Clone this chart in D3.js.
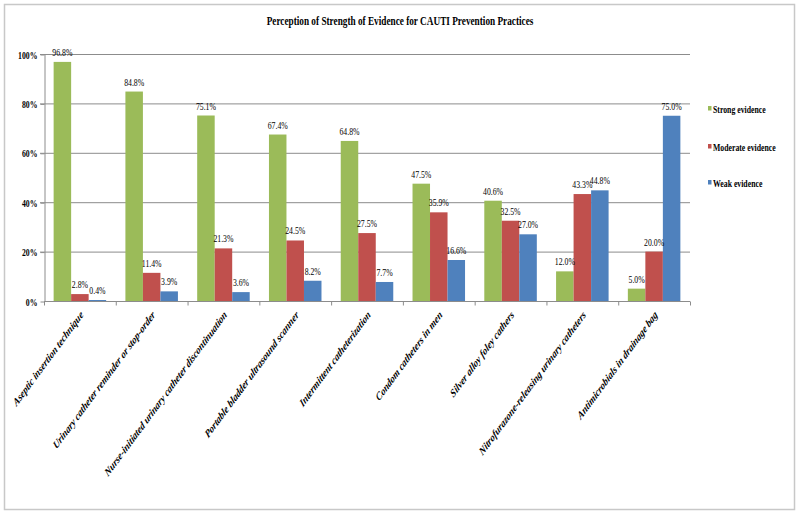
<!DOCTYPE html>
<meta charset="utf-8">
<style>
    body { margin: 0; background: #fff; }
    text { font-family: "Liberation Serif", "Times New Roman", serif; fill: #000; }
    .grid line { stroke: #8c8c8c; stroke-width: 1; }
    .axis path, .axis line { stroke: #8c8c8c; }
</style>
<svg width="800" height="516"></svg>

<script src="https://d3js.org/d3.v7.min.js"></script>
<script>
    var categories = ["Aseptic insertion technique", "Urinary catheter reminder or stop-order",
        "Nurse-initiated urinary catheter discontinuation", "Portable bladder ultrasound scanner",
        "Intermittent catheterization", "Condom catheters in men", "Silver alloy foley cathers",
        "Nitrofurazone-releasing urinary catheters", "Antimicrobials in drainage bag"];
    var seriesNames = ["Strong evidence", "Moderate evidence", "Weak evidence"];
    var strong = [96.8, 84.8, 75.1, 67.4, 64.8, 47.5, 40.6, 12.0, 5.0];
    var moderate = [2.8, 11.4, 21.3, 24.5, 27.5, 35.9, 32.5, 43.3, 20.0];
    var weak = [0.4, 3.9, 3.6, 8.2, 7.7, 16.6, 27.0, 44.8, 75.0];
    var yTicks = [0, 20, 40, 60, 80, 100];
    var colors = ["#9bbb59", "#c0504d", "#4f81bd"];

    // the picture is squeezed sideways, so text is squeezed the same way
    var sx = 0.74;

    var svg = d3.select("svg");
    var plotLeft = 44, plotRight = 690, plotTop = 54, plotBottom = 301;

    svg.append("rect")
        .attr("x", 4.5).attr("y", 4.5).attr("width", 790).attr("height", 505)
        .attr("fill", "#fff").attr("stroke", "#c8c8c8").attr("stroke-width", 1.5);

    svg.append("text")
        .attr("transform", "translate(400,25) scale(" + sx + ",1)")
        .attr("text-anchor", "middle")
        .style("font-size", "12.5px").style("font-weight", "bold")
        .text("Perception of Strength of Evidence for CAUTI Prevention Practices");

    var x = d3.scaleBand().domain(categories).range([plotLeft, plotRight]).paddingInner(0).paddingOuter(0);
    var x1 = d3.scaleBand().domain(seriesNames).range([0, x.bandwidth()]).paddingOuter(0.55).paddingInner(0);
    var y = d3.scaleLinear().domain([0, 100]).range([plotBottom, plotTop]);

    var data = categories.map(function(c, i) {
        return { cat: c, values: [strong[i], moderate[i], weak[i]] };
    });

    // gridlines
    svg.append("g").attr("class", "grid")
        .selectAll("line").data(yTicks.slice(1)).enter().append("line")
        .attr("x1", plotLeft - 4).attr("x2", plotRight)
        .attr("y1", function(d) { return y(d) + 0.5; })
        .attr("y2", function(d) { return y(d) + 0.5; });

    // y axis
    var yAxis = svg.append("g").attr("class", "axis")
        .attr("transform", "translate(" + (plotLeft + 0.5) + ",0.5)")
        .call(d3.axisLeft(y).tickValues(yTicks).tickSize(4).tickSizeOuter(0)
            .tickFormat(function(d) { return d + "%"; }));
    yAxis.selectAll("text")
        .attr("x", null).attr("dy", "0.35em")
        .attr("transform", "translate(-7,0) scale(" + sx + ",1)")
        .style("font-size", "10.5px").style("font-weight", "bold")
        .style("font-family", "'Liberation Serif', serif");

    // bars
    var groups = svg.append("g").selectAll("g").data(data).enter().append("g")
        .attr("transform", function(d) { return "translate(" + x(d.cat) + ",0)"; });
    groups.selectAll("rect")
        .data(function(d) { return d.values.map(function(v, j) { return { s: seriesNames[j], v: v, j: j }; }); })
        .enter().append("rect")
        .attr("x", function(d) { return x1(d.s); })
        .attr("width", x1.bandwidth())
        .attr("y", function(d) { return y(d.v); })
        .attr("height", function(d) { return y(0) - y(d.v); })
        .attr("fill", function(d) { return colors[d.j]; });
    groups.selectAll("text.val")
        .data(function(d) { return d.values.map(function(v, j) { return { s: seriesNames[j], v: v }; }); })
        .enter().append("text").attr("class", "val")
        .attr("text-anchor", "middle")
        .attr("transform", function(d) {
            return "translate(" + (x1(d.s) + x1.bandwidth() / 2) + "," + (y(d.v) - 6) + ") scale(" + sx + ",1)";
        })
        .style("font-size", "10.5px")
        .text(function(d) { return d.v.toFixed(1) + "%"; });

    // x axis
    var xAxis = svg.append("g").attr("class", "axis")
        .attr("transform", "translate(0," + (plotBottom + 0.5) + ")");
    xAxis.append("line").attr("x1", plotLeft).attr("x2", plotRight);
    xAxis.selectAll("line.tick").data(categories).enter().append("line")
        .attr("class", "tick")
        .attr("x1", function(d) { return x(d) + x.bandwidth() + 0.5; })
        .attr("x2", function(d) { return x(d) + x.bandwidth() + 0.5; })
        .attr("y1", 0).attr("y2", 4);
    xAxis.append("line").attr("x1", plotLeft + 0.5).attr("x2", plotLeft + 0.5).attr("y1", 0).attr("y2", 4);
    xAxis.selectAll("text").data(categories).enter().append("text")
        .attr("text-anchor", "end")
        .attr("transform", function(d) {
            return "translate(" + (x(d) + x.bandwidth() / 2 + 4) + ",14) scale(" + sx + ",1) rotate(-45)";
        })
        .style("font-size", "11.5px").style("font-weight", "bold").style("font-style", "italic")
        .text(function(d) { return d; });

    // legend
    var legY = [109, 147, 183];
    var legend = svg.append("g").selectAll("g").data(seriesNames).enter().append("g")
        .attr("transform", function(d, i) { return "translate(708," + legY[i] + ")"; });
    legend.append("rect").attr("x", 0).attr("y", -3).attr("width", 3.5).attr("height", 4.5)
        .attr("fill", function(d, i) { return colors[i]; });
    legend.append("text")
        .attr("transform", "translate(5,0) scale(" + sx + ",1)")
        .attr("dy", "0.35em")
        .style("font-size", "10.5px").style("font-weight", "bold")
        .text(function(d) { return d; });
</script>
